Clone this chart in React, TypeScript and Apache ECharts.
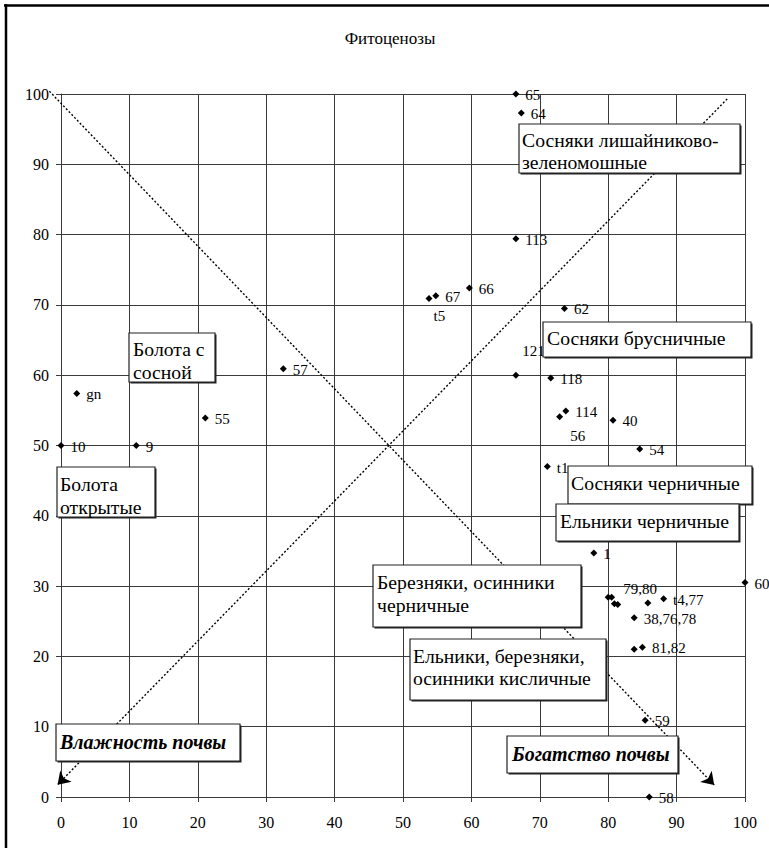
import React, { useEffect, useRef } from "react";
import * as echarts from "echarts";

// ---- data ----
const chartTitle = "Фитоценозы";
const axisMin = 0;
const axisMax = 100;
const axisStep = 10;

const pointX = [66.5, 67.3, 66.5, 59.7, 54.8, 53.8, 73.6, 66.5, 71.6, 73.8, 72.9, 80.7, 84.6, 71.1, 77.9, 100,
  80.0, 80.5, 80.9, 81.4, 85.8, 88.1, 83.8, 83.8, 85.0, 85.4, 86.0, 32.5, 2.3, 21.1, 0, 11.0];
const pointY = [100, 97.3, 79.4, 72.4, 71.3, 70.9, 69.5, 60.0, 59.6, 54.9, 54.1, 53.6, 49.5, 47.0, 34.7, 30.5,
  28.4, 28.4, 27.5, 27.4, 27.6, 28.2, 25.5, 21.0, 21.3, 10.9, 0, 60.9, 57.4, 53.9, 50, 50];
const pointLabels = ["65", "64", "113", "66", "67", "t5", "62", "121", "118", "114", "56", "40", "54", "t1", "1", "60",
  "", "", "", "79,80", "", "t4,77", "38,76,78", "", "81,82", "59", "58", "57", "gn", "55", "10", "9"];

// arrows (data coordinates: start, end)
const richnessArrow = [[-1.7, 100.4], [95.5, 1.7]];
const moistureArrow = [[97.4, 99.3], [-0.5, 1.75]];

const boxTexts: string[][] = [
  ["Сосняки лишайниково-", "зеленомошные"],
  ["Сосняки брусничные"],
  ["Сосняки черничные"],
  ["Ельники черничные"],
  ["Березняки, осинники", "черничные"],
  ["Ельники, березняки,", "осинники кисличные"],
  ["Богатство почвы"],
  ["Болота с", "сосной"],
  ["Болота", "открытые"],
  ["Влажность почвы"],
];

// ---- layout ----
const boxLayout = [
  { x: 519, y: 124, w: 221, h: 49, tx: 522, ly: [140, 162], bold: false },
  { x: 543, y: 322, w: 208, h: 35, tx: 547, ly: [338], bold: false },
  { x: 568, y: 466, w: 184, h: 38, tx: 571, ly: [483], bold: false },
  { x: 556, y: 504, w: 183, h: 37, tx: 560, ly: [521], bold: false },
  { x: 373, y: 565, w: 208, h: 62, tx: 377, ly: [582, 605], bold: false },
  { x: 410, y: 639, w: 196, h: 61, tx: 413, ly: [656, 678], bold: false },
  { x: 507, y: 736, w: 171, h: 37, tx: 512, ly: [754], bold: true },
  { x: 129, y: 333, w: 86, h: 49, tx: 133, ly: [349, 372], bold: false },
  { x: 57, y: 467, w: 98, h: 50, tx: 60, ly: [484, 507], bold: false },
  { x: 56, y: 724, w: 184, h: 37, tx: 60, ly: [742], bold: true },
];

const labelOffsets: Record<string, number[]> = {
  t5: [-5, 17],
  "121": [-3, -24],
  "56": [1, 19],
  "79,80": [-4, -15],
};

const SERIF = "Liberation Serif";
const GRID_COLOR = "#3a3a3a";

export default function App() {
  const ref = useRef<HTMLDivElement>(null);

  useEffect(() => {
    const chart = echarts.init(ref.current!, null, { renderer: "svg" });

    const data = pointX.map((x, i) => {
      const lab = pointLabels[i];
      return {
        name: lab,
        value: [x, pointY[i]],
        label: { show: lab !== "", offset: labelOffsets[lab] || [0, 1] },
      };
    });

    const axisCommon = {
      type: "value" as const,
      min: axisMin,
      max: axisMax,
      interval: axisStep,
      axisLine: { show: true, lineStyle: { color: GRID_COLOR, width: 1 } },
      axisTick: { show: true, length: 5, lineStyle: { color: GRID_COLOR, width: 1 } },
      splitLine: { show: true, lineStyle: { color: GRID_COLOR, width: 1 } },
    };

    const boxes: any[] = [];
    boxLayout.forEach((b, i) => {
      boxes.push({
        type: "rect",
        z: 100,
        shape: { x: b.x + 1.5, y: b.y + 1.5, width: b.w, height: b.h },
        style: { fill: "#222", stroke: null },
        silent: true,
      });
      boxes.push({
        type: "rect",
        z: 101,
        shape: { x: b.x, y: b.y, width: b.w, height: b.h },
        style: { fill: "#fff", stroke: "#222", lineWidth: 1.2 },
        silent: true,
      });
      boxTexts[i].forEach((line, j) => {
        boxes.push({
          type: "text",
          z: 102,
          x: b.tx,
          y: b.ly[j],
          silent: true,
          style: {
            text: line,
            fill: "#000",
            fontFamily: SERIF,
            fontSize: b.bold ? 20 : 19.7,
            fontStyle: b.bold ? "italic" : "normal",
            fontWeight: b.bold ? "bold" : "normal",
            textAlign: "left",
            textVerticalAlign: "middle",
          },
        });
      });
    });

    chart.setOption({
      animation: false,
      backgroundColor: "#fff",
      textStyle: { fontFamily: SERIF },
      grid: { left: 61, right: 24, top: 94, bottom: 51, containLabel: false },
      xAxis: {
        ...axisCommon,
        axisLabel: { color: "#000", fontSize: 16, fontFamily: SERIF, margin: 17 },
      },
      yAxis: {
        ...axisCommon,
        axisLabel: { color: "#000", fontSize: 16, fontFamily: SERIF, margin: 12 },
      },
      graphic: [
        {
          type: "line",
          z: 0,
          shape: { x1: 4, y1: 5.5, x2: 900, y2: 5.5 },
          style: { stroke: "#000", lineWidth: 2.5 },
          silent: true,
        },
        {
          type: "line",
          z: 0,
          shape: { x1: 6, y1: 4, x2: 6, y2: 900 },
          style: { stroke: "#000", lineWidth: 2.5 },
          silent: true,
        },
        {
          type: "text",
          x: 390,
          y: 38,
          z: 5,
          style: {
            text: chartTitle,
            fontFamily: SERIF,
            fontSize: 17,
            fill: "#000",
            textAlign: "center",
            textVerticalAlign: "middle",
          },
        },
        ...boxes,
      ],
      series: [
        {
          id: "pts",
          type: "scatter",
          symbol: "diamond",
          symbolSize: 7,
          itemStyle: { color: "#000", opacity: 1 },
          clip: false,
          z: 5,
          label: {
            show: true,
            position: "right",
            distance: 6,
            formatter: "{b}",
            color: "#000",
            fontSize: 15,
            fontFamily: SERIF,
          },
          data,
        },
      ],
    });

    const px = (c: number[]) => chart.convertToPixel({ gridIndex: 0 }, c) as number[];
    const mk = (a: number[][]) => {
      const s = px(a[0]);
      const e = px(a[1]);
      return [{ x: s[0], y: s[1] }, { x: e[0], y: e[1] }];
    };
    chart.setOption({
      series: [
        {
          id: "pts",
          markLine: {
            silent: true,
            symbol: ["none", "arrow"],
            symbolSize: 12,
            label: { show: false },
            lineStyle: { color: "#000", width: 1.4, type: [2, 2] },
            emphasis: { disabled: true },
            data: [mk(richnessArrow), mk(moistureArrow)],
          },
        },
      ],
    });

    return () => chart.dispose();
  }, []);

  return (
    <div
      ref={ref}
      style={{ position: "absolute", left: 0, top: 0, width: 769, height: 848 }}
    />
  );
}
